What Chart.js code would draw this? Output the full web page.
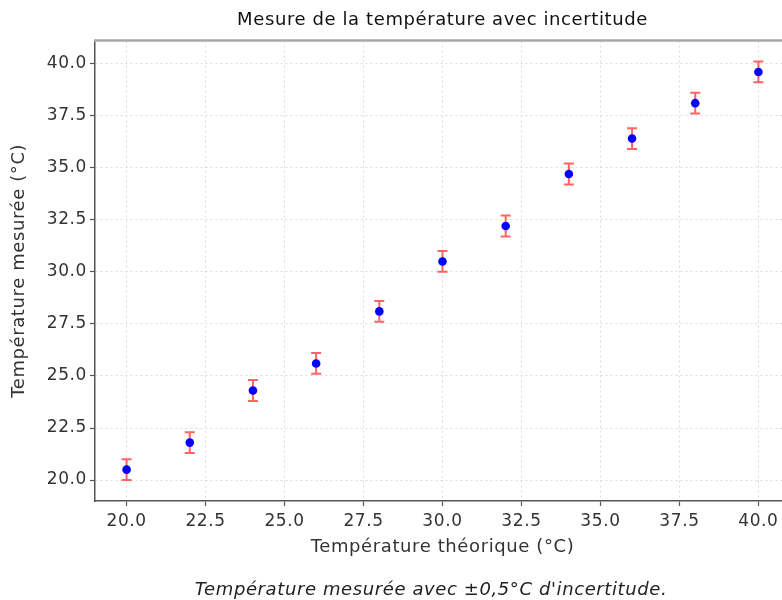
<!DOCTYPE html>
<html>
<head>
<meta charset="utf-8">
<script src="https://cdn.jsdelivr.net/npm/chart.js@4/dist/chart.umd.min.js"></script>
<style>
  html, body { margin: 0; padding: 0; background: #fff; overflow: hidden; }
  #wrap { position: relative; width: 862px; height: 600px; }
</style>
</head>
<body>
<div id="wrap"><canvas id="chart" width="862" height="600"></canvas></div>
<script>
// Theoretical vs measured temperatures (°C), each with its uncertainty
const theoretical = [20, 22, 24, 26, 28, 30, 32, 34, 36, 38, 40];
const measured    = [20.5, 21.8, 24.3, 25.6, 28.1, 30.5, 32.2, 34.7, 36.4, 38.1, 39.6];
const uncertainty = [0.5, 0.5, 0.5, 0.5, 0.5, 0.5, 0.5, 0.5, 0.5, 0.5, 0.5];

const xTicks = [20, 22.5, 25, 27.5, 30, 32.5, 35, 37.5, 40];
const yTicks = [20, 22.5, 25, 27.5, 30, 32.5, 35, 37.5, 40];

const FONT = "'DejaVu Sans', sans-serif";
const TEXT = '#333';

const points = theoretical.map((x, i) => ({ x: x, y: measured[i], err: uncertainty[i] }));

// Slightly looser letter spacing for all canvas text
const spacing = {
  id: 'spacing',
  beforeLayout(chart) { chart.ctx.letterSpacing = '0.6px'; },
  beforeDraw(chart) { chart.ctx.letterSpacing = '0.6px'; }
};

// Vertical error bars with caps, drawn beneath the markers
const errorBars = {
  id: 'errorBars',
  beforeDatasetsDraw(chart) {
    const { ctx, chartArea, scales: { x, y } } = chart;
    ctx.save();
    ctx.beginPath();
    ctx.rect(chartArea.left, chartArea.top, chartArea.right - chartArea.left, chartArea.bottom - chartArea.top);
    ctx.clip();
    ctx.strokeStyle = 'rgba(255, 40, 40, 0.72)';
    ctx.lineWidth = 2;
    chart.data.datasets[0].data.forEach(p => {
      const px = x.getPixelForValue(p.x);
      const top = y.getPixelForValue(p.y + p.err);
      const bot = y.getPixelForValue(p.y - p.err);
      const cap = 5;
      ctx.beginPath();
      ctx.moveTo(px, top); ctx.lineTo(px, bot);
      ctx.moveTo(px - cap, top); ctx.lineTo(px + cap, top);
      ctx.moveTo(px - cap, bot); ctx.lineTo(px + cap, bot);
      ctx.stroke();
    });
    ctx.restore();
  }
};

// Top frame line of the plot area
const topFrame = {
  id: 'topFrame',
  afterDatasetsDraw(chart) {
    const { ctx, chartArea } = chart;
    ctx.save();
    ctx.strokeStyle = '#a8a8a8';
    ctx.lineWidth = 2.5;
    ctx.beginPath();
    ctx.moveTo(chartArea.left - 1, chartArea.top);
    ctx.lineTo(chartArea.right, chartArea.top);
    ctx.stroke();
    ctx.restore();
  }
};

// Caption centred under the figure
const caption = {
  id: 'caption',
  afterDraw(chart, args, opts) {
    const { ctx } = chart;
    ctx.save();
    ctx.font = opts.font;
    ctx.fillStyle = opts.color;
    ctx.textAlign = 'center';
    ctx.textBaseline = 'middle';
    ctx.fillText(opts.text, chart.width / 2, opts.y);
    ctx.restore();
  }
};

new Chart(document.getElementById('chart'), {
  type: 'scatter',
  data: {
    datasets: [{
      label: 'Température mesurée',
      data: points,
      pointRadius: 4.3,
      pointHoverRadius: 4.3,
      pointBackgroundColor: '#0000ff',
      pointBorderWidth: 0,
      showLine: false
    }]
  },
  options: {
    responsive: false,
    animation: false,
    layout: { padding: { left: 0, right: 72, top: 0, bottom: 0 } },
    plugins: {
      legend: { display: false },
      tooltip: { enabled: false },
      title: {
        display: true,
        text: 'Mesure de la température avec incertitude',
        fullSize: false,
        color: '#111',
        font: { family: FONT, size: 18, weight: 'normal' },
        padding: { top: 10, bottom: 9 }
      },
      caption: {
        text: "Température mesurée avec ±0,5°C d'incertitude.",
        font: "italic 18px " + FONT,
        color: '#222',
        y: 590
      }
    },
    scales: {
      x: {
        type: 'linear',
        min: 19,
        max: 41,
        afterBuildTicks(scale) { scale.ticks = xTicks.map(v => ({ value: v })); },
        afterFit(scale) { scale.height = 99; },
        ticks: {
          color: TEXT,
          font: { family: FONT, size: 17 },
          padding: 5,
          callback: v => v.toFixed(1)
        },
        grid: { color: '#dcdcdc', lineWidth: 1, tickLength: 5, tickColor: '#555', tickWidth: 1.2 },
        border: { display: true, color: '#555', width: 1.5, dash: [2, 3] },
        title: {
          display: true,
          text: 'Température théorique (°C)',
          color: TEXT,
          font: { family: FONT, size: 18 },
          padding: { top: 0, bottom: 42 }
        }
      },
      y: {
        type: 'linear',
        min: 18.995,
        max: 41.105,
        afterBuildTicks(scale) { scale.ticks = yTicks.map(v => ({ value: v })); },
        afterFit(scale) { scale.width = 95; },
        ticks: {
          color: TEXT,
          font: { family: FONT, size: 17 },
          padding: 3,
          callback: v => v.toFixed(1)
        },
        grid: { color: '#dcdcdc', lineWidth: 1, tickLength: 5, tickColor: '#555', tickWidth: 1.2 },
        border: { display: true, color: '#555', width: 1.5, dash: [2, 3] },
        title: {
          display: true,
          text: 'Température mesurée (°C)',
          color: TEXT,
          font: { family: FONT, size: 18 },
          padding: { top: 9, bottom: 0 }
        }
      }
    }
  },
  plugins: [spacing, errorBars, topFrame, caption]
});
</script>
</body>
</html>
